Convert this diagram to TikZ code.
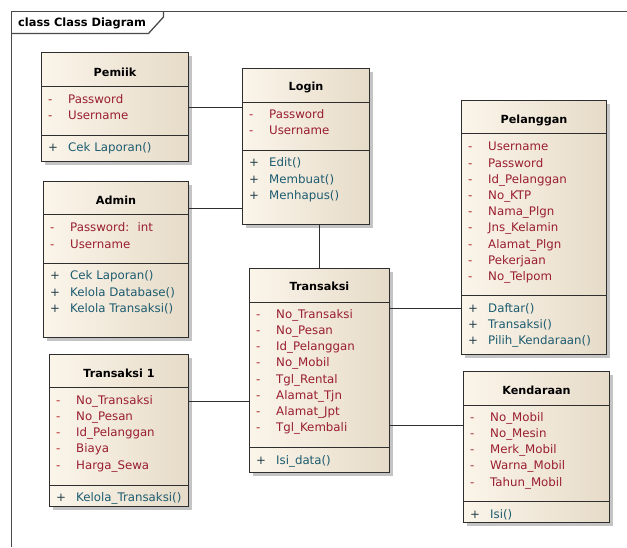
\documentclass[tikz,border=0pt]{standalone}
\usepackage{fontspec}
\setmainfont{DejaVu Sans}
\usetikzlibrary{fit,calc}
\definecolor{attrc}{HTML}{9A1E30}
\definecolor{opc}{HTML}{1D5C70}
\definecolor{minusc}{HTML}{B02428}
\definecolor{plusc}{HTML}{203C48}
\definecolor{fillL}{HTML}{FBF5EA}
\definecolor{fillR}{HTML}{E6DBC8}
\definecolor{edgec}{HTML}{2E2E2E}
\definecolor{shadc}{HTML}{C4C4C4}
\definecolor{framec}{HTML}{4A4A4A}
\tikzset{
  clsbox/.style={draw=edgec, line width=1.3pt, left color=fillL, right color=fillR, inner sep=0pt},
  clsline/.style={draw=edgec, line width=1.3pt},
  conn/.style={draw=edgec, line width=1.2pt},
  framel/.style={draw=framec, line width=1.3pt},
  ttl/.style={font=\fontsize{11.2}{13}\selectfont\bfseries, text=black, inner sep=0pt},
  ftl/.style={font=\fontsize{11.4}{13}\selectfont\bfseries, text=black, inner sep=0pt},
  txtattr/.style={font=\fontsize{11.8}{13}\selectfont, text=attrc, inner sep=0pt},
  txtop/.style={font=\fontsize{11.8}{13}\selectfont, text=opc, inner sep=0pt},
  sgnattr/.style={font=\fontsize{11.8}{13}\selectfont, text=minusc, inner sep=0pt},
  sgnop/.style={font=\fontsize{11.8}{13}\selectfont, text=plusc, inner sep=0pt},
}
% #1 name, #2 x0, #3 y0, #4 x1, #5 y1, #6 header line y, #7 separator y
\newcommand{\umlbox}[7]{%
  \fill[shadc] ({#2+3.5},{#3+3.5}) rectangle ({#4+3.5},{#5+3.5});
  \node[clsbox, fit={(#2,#3) (#4,#5)}] (#1) {};
  \draw[clsline] (#2,#6) -- (#4,#6);
  \draw[clsline] (#2,#7) -- (#4,#7);
}
% #1 name, #2 x0, #3 x1, #4 y, #5 text
\newcommand{\umltitle}[5]{%
  \node[ttl, anchor=base] (#1-title) at ({(#2+#3)/2},{#4+4}) {#5};
}
% #1 name, #2 x0, #3 kind, #4 sign, #5 first y, #6 list
\newcommand{\umlrows}[6]{%
  \foreach \txt [count=\i from 0] in {#6} {
    \node[sgn#3, anchor=base west] (#1-#3-s\i) at ({#2+6.5},{#5+4.2+16.2*\i}) {#4};
    \node[txt#3, anchor=base west] (#1-#3-\i) at ({#2+26.5},{#5+4.2+16.2*\i}) {\txt};
  }
}
\begin{document}
\begin{tikzpicture}[x=1pt,y=-1pt]
\useasboundingbox (0,0) rectangle (627,547);
\fill[white] (0,0) rectangle (627,547);
% frame
\draw[framel] (11.5,547) -- (11.5,11.5) -- (627,11.5);
\draw[framel] (11.5,33.5) -- (148.5,33.5) -- (163.5,17) -- (163.5,11.5);
\node[ftl, anchor=base west] (frametitle) at (18,26.2) {class Class Diagram};

% Pemiik
\umlbox{pemiik}{41.5}{52.5}{188.5}{161.5}{86.5}{135.5}
\umltitle{pemiik}{41.5}{188.5}{72}{Pemiik}
\umlrows{pemiik}{41.5}{attr}{-}{99.3}{Password,Username}
\umlrows{pemiik}{41.5}{op}{+}{147.7}{Cek Laporan()}

% Login
\umlbox{login}{242.5}{68.5}{369.5}{224.5}{102.5}{150.5}
\umltitle{login}{242.5}{369.5}{86.7}{Login}
\umlrows{login}{242.5}{attr}{-}{114}{Password,Username}
\umlrows{login}{242.5}{op}{+}{162.7}{Edit(),Membuat(),Menhapus()}

% Admin
\umlbox{admin}{43.5}{181.5}{188.5}{337.5}{214.5}{263.5}
\umltitle{admin}{43.5}{188.5}{200}{Admin}
\umlrows{admin}{43.5}{attr}{-}{227.7}{Password:\hspace{0.7em}int,Username}
\umlrows{admin}{43.5}{op}{+}{275.7}{Cek Laporan(),Kelola Database(),Kelola Transaksi()}

% Transaksi
\umlbox{transaksi}{249.5}{268.5}{389.5}{472.5}{302.5}{447.5}
\umltitle{transaksi}{249.5}{389.5}{286.7}{Transaksi}
\umlrows{transaksi}{249.5}{attr}{-}{314}{No\_Transaksi,No\_Pesan,Id\_Pelanggan,No\_Mobil,Tgl\_Rental,Alamat\_Tjn,Alamat\_Jpt,Tgl\_Kembali}
\umlrows{transaksi}{249.5}{op}{+}{460}{Isi\_data()}

% Transaksi 1
\umlbox{transaksisatu}{49.5}{354.5}{188.5}{506.5}{387.5}{485.5}
\umltitle{transaksisatu}{49.5}{188.5}{373}{Transaksi 1}
\umlrows{transaksisatu}{49.5}{attr}{-}{400}{No\_Transaksi,No\_Pesan,Id\_Pelanggan,Biaya,Harga\_Sewa}
\umlrows{transaksisatu}{49.5}{op}{+}{497.3}{Kelola\_Transaksi()}

% Pelanggan
\umlbox{pelanggan}{461.5}{100.5}{606.5}{354.5}{133.5}{295.5}
\umltitle{pelanggan}{461.5}{606.5}{119.3}{Pelanggan}
\umlrows{pelanggan}{461.5}{attr}{-}{146.7}{Username,Password,Id\_Pelanggan,No\_KTP,Nama\_Plgn,Jns\_Kelamin,Alamat\_Plgn,Pekerjaan,No\_Telpom}
\umlrows{pelanggan}{461.5}{op}{+}{308}{Daftar(),Transaksi(),Pilih\_Kendaraan()}

% Kendaraan
\umlbox{kendaraan}{463.5}{371.5}{609.5}{522.5}{405.5}{501.5}
\umltitle{kendaraan}{463.5}{609.5}{390.3}{Kendaraan}
\umlrows{kendaraan}{463.5}{attr}{-}{417}{No\_Mobil,No\_Mesin,Merk\_Mobil,Warna\_Mobil,Tahun\_Mobil}
\umlrows{kendaraan}{463.5}{op}{+}{514.7}{Isi()}

% connectors
\coordinate (ya) at (0,107.5);
\coordinate (yb) at (0,208.5);
\coordinate (xc) at (319.5,0);
\coordinate (yd) at (0,308.5);
\coordinate (ye) at (0,401.5);
\coordinate (yf) at (0,425.5);
\draw[conn] (pemiik.east |- ya) -- (login.west |- ya);
\draw[conn] (admin.east |- yb) -- (login.west |- yb);
\draw[conn] (login.south -| xc) -- (transaksi.north -| xc);
\draw[conn] (transaksi.east |- yd) -- (pelanggan.west |- yd);
\draw[conn] (transaksisatu.east |- ye) -- (transaksi.west |- ye);
\draw[conn] (transaksi.east |- yf) -- (kendaraan.west |- yf);
\end{tikzpicture}
\end{document}
